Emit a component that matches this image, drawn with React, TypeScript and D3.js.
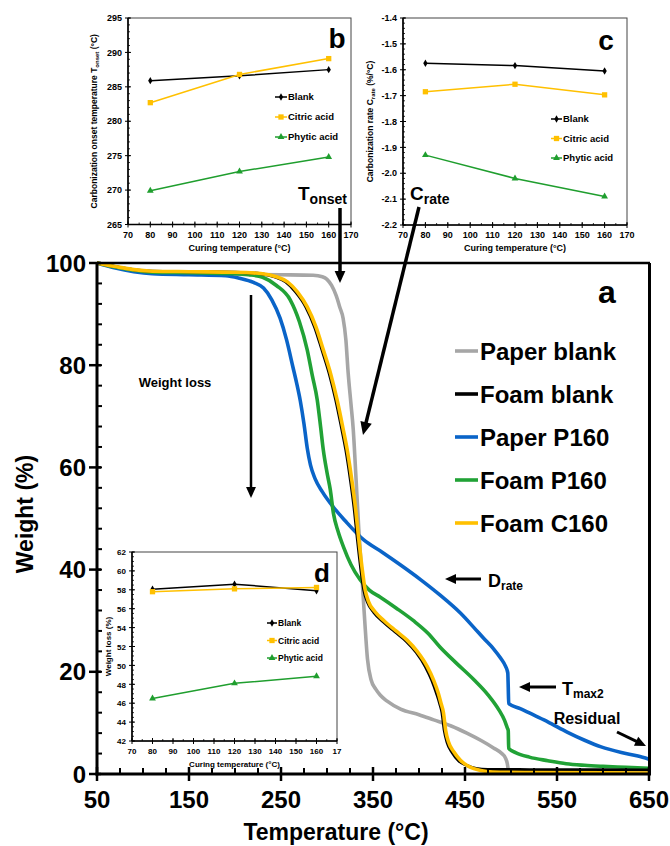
import React from 'react';
import * as d3 from 'd3';

const FONT = '"Liberation Sans", Arial, Helvetica, sans-serif';

// main TGA curves, [temperature (°C), weight (%)]
const paperBlank: [number, number][] = [
  [50, 100], [70, 99.2], [90, 98.5], [110, 98.1], [150, 97.9], [200, 97.8], [250, 97.7], [285, 97.6],
  [295, 97.3], [300, 96.8], [305, 95.6], [310, 93.6], [314, 91.3], [317.5, 89.2], [320.5, 85],
  [323, 78.5], [326, 72.5], [328.5, 67.5], [331.5, 58], [334.5, 48], [338, 38.5], [341, 30],
  [344, 22.5], [348, 18.4], [353, 16.6], [358, 15.4], [365, 14.3], [380, 12.7], [400, 11.6],
  [416, 10.6], [435, 9.4], [452, 8], [468, 6.5], [481, 5.1], [490, 4], [494, 3.1], [496, 2], [497, 0.8],
];
const foamBlank: [number, number][] = [
  [50, 100], [70, 99.3], [90, 98.7], [110, 98.4], [150, 98.3], [200, 98.2], [228, 97.9], [243, 97.3],
  [255, 96.3], [266, 94.3], [277, 91.4], [286.5, 87.5], [294.5, 83], [302.5, 78.3], [309.5, 73.2],
  [315.5, 68], [320.5, 63.4], [325.5, 57.5], [329.5, 52], [333, 46], [336.5, 40.5], [340, 36],
  [344, 33.6], [351, 31.6], [361, 29.8], [374, 27.8], [386, 26], [397, 23.8], [407, 21], [414, 18.3],
  [419, 15.8], [422.5, 13.8], [425, 12], [427.5, 8.5], [430.5, 6.2], [436, 4.2], [443, 2.6],
  [452, 1.7], [462, 1.1], [475, 0.9], [520, 0.85], [650, 0.8],
];
const paperP160: [number, number][] = [
  [50, 100], [70, 99], [90, 98.3], [110, 97.9], [150, 97.7], [190, 97.5], [205, 97], [220, 96.2],
  [231, 95.1], [240, 92.8], [249, 89.2], [256, 85], [263, 79.6], [267, 76.5], [271, 73], [275, 68.5],
  [278.5, 63.8], [282, 60.5], [287, 57.8], [295, 55.2], [307, 52.2], [320, 49.5], [340, 45.8],
  [360, 43.4], [380, 40.9], [402, 38], [423, 35], [445, 31.5], [460, 28.6], [470, 26.6], [481, 24.5],
  [489, 22.6], [494, 21.1], [496.5, 19.8], [497, 17], [497.5, 13.8], [510, 12.8], [525, 11.5],
  [540, 10.2], [561, 8.2], [580, 6.6], [598, 5.3], [620, 4.2], [638, 3.5], [650, 2.9],
];
const foamP160: [number, number][] = [
  [50, 100], [70, 99.2], [90, 98.6], [110, 98.2], [150, 98.1], [200, 97.9], [215, 97.7], [230, 97.2],
  [245, 95.6], [260, 92.8], [270, 88.5], [278.5, 83], [284, 78], [289.4, 73.2], [293, 68],
  [296, 63.4], [300, 59], [303.6, 55.6], [307, 51], [312, 47.5], [318, 44.4], [326, 41], [336, 38],
  [346, 36], [358, 34.6], [375, 32.5], [394, 30], [410, 27.5], [423, 24.8], [440, 21.8], [460, 18.4],
  [475, 15.5], [487, 12.5], [493, 10.5], [496, 9], [497, 8.5], [497.5, 5], [505, 4.2], [520, 3.3],
  [540, 2.6], [560, 2], [580, 1.7], [600, 1.5], [625, 1.3], [650, 1.1],
];
const foamC160: [number, number][] = [
  [50, 100], [70, 99.3], [90, 98.7], [110, 98.4], [150, 98.3], [200, 98.2], [230, 97.9], [245, 97.3],
  [257, 96.3], [268, 94.3], [278.5, 91.4], [288, 87.5], [296, 83], [304, 78.3], [311, 73.2],
  [317, 68], [322, 63.4], [327, 57.5], [331, 52], [334.5, 46], [338, 40.5], [341.5, 36], [345, 33.8],
  [352, 31.8], [362, 30], [375, 28], [387, 26.2], [398, 24], [409, 21], [416, 18.3], [421, 15.8],
  [424, 13.8], [426.6, 12], [429, 8.5], [432, 6.3], [438, 4.3], [445, 2.7], [455, 1.4], [467, 0.7],
  [480, 0.4], [520, 0.3], [650, 0.2],
];

const mainNames = ['Paper blank', 'Foam blank', 'Paper P160', 'Foam P160', 'Foam C160'];
const mainSeries = [paperBlank, foamBlank, paperP160, foamP160, foamC160];
const mainColors = ['#a6a6a6', '#000000', '#0a64c8', '#21a236', '#ffc000'];
const xTicks = [50, 150, 250, 350, 450, 550, 650];
const yTicks = [0, 20, 40, 60, 80, 100];

// inset data
const curingTemps = [80, 120, 160];
const curingTicks = [70, 80, 90, 100, 110, 120, 130, 140, 150, 160, 170];
const curingLabels = ['70', '80', '90', '100', '110', '120', '130', '140', '150', '160', '170'];
const curingLabelsD = ['70', '80', '90', '100', '110', '120', '130', '140', '150', '160', '17'];
const insetNames = ['Blank', 'Citric acid', 'Phytic acid'];
const insetColors = ['#000000', '#ffc000', '#1f9e2e'];

const tonsetBlank = [285.9, 286.6, 287.5];
const tonsetCitric = [282.7, 286.8, 289.1];
const tonsetPhytic = [269.9, 272.7, 274.8];

const crateBlank = [-1.575, -1.584, -1.605];
const crateCitric = [-1.685, -1.656, -1.697];
const cratePhytic = [-1.93, -2.02, -2.09];

const lossBlank = [58.05, 58.6, 57.9];
const lossCitric = [57.8, 58.1, 58.25];
const lossPhytic = [46.5, 48.1, 48.85];

const symbols = [d3.symbolDiamond, d3.symbolSquare, d3.symbolTriangle];
const symSizes = [16, 28, 20];

function Arrow({ x1, y1, x2, y2, w = 3, head = 12 }: any) {
  const dx = x2 - x1, dy = y2 - y1;
  const len = Math.hypot(dx, dy);
  const ux = dx / len, uy = dy / len;
  const bx = x2 - ux * head, by = y2 - uy * head;
  const hw = head * 0.45;
  const pts = `${x2},${y2} ${bx - uy * hw},${by + ux * hw} ${bx + uy * hw},${by - ux * hw}`;
  return (
    <g>
      <line x1={x1} y1={y1} x2={bx + ux * 1} y2={by + uy * 1} stroke="#000" strokeWidth={w} />
      <polygon points={pts} fill="#000" />
    </g>
  );
}

function Inset({ box, yDomain, yStep, yMinor, yFmt, xLabels, data, legend, letter, title, titleX, fs }: any) {
  const x = d3.scaleLinear().domain([70, 170]).range([box.x0, box.x1]);
  const y = d3.scaleLinear().domain(yDomain).range([box.y1, box.y0]);
  const yMaj = d3.range(yDomain[0], yDomain[1] + yStep / 2, yStep);
  const yMin = d3.range(yDomain[0], yDomain[1] + yMinor / 2, yMinor);
  const xMin = d3.range(70, 171, 5);
  const line = d3.line<number>().x((_, i) => x(curingTemps[i])).y(d => y(d));
  return (
    <g fontFamily={FONT} fontWeight="bold">
      <rect x={box.x0} y={box.y0} width={box.x1 - box.x0} height={box.y1 - box.y0} fill="#fff" stroke="#444" strokeWidth={1} />
      {yMin.map((v: number, i: number) => (
        <line key={'ym' + i} x1={box.x0} x2={box.x0 + 2} y1={y(v)} y2={y(v)} stroke="#000" strokeWidth={0.8} />
      ))}
      {yMaj.map((v: number, i: number) => (
        <g key={'yM' + i}>
          <line x1={box.x0 - 3} x2={box.x0 + 3} y1={y(v)} y2={y(v)} stroke="#000" strokeWidth={1} />
          <text x={box.x0 - 6} y={y(v) + 3.2} fontSize={fs} textAnchor="end">{yFmt(v)}</text>
        </g>
      ))}
      {xMin.map((v: number, i: number) => (
        <line key={'xm' + i} x1={x(v)} x2={x(v)} y1={box.y1} y2={box.y1 - 2} stroke="#000" strokeWidth={0.8} />
      ))}
      {curingTicks.map((v, i) => (
        <g key={'xM' + i}>
          <line x1={x(v)} x2={x(v)} y1={box.y1 - 3} y2={box.y1 + 3} stroke="#000" strokeWidth={1} />
          <text x={x(v)} y={box.y1 + 13} fontSize={fs} textAnchor="middle">{xLabels[i]}</text>
        </g>
      ))}
      <line x1={box.x0} x2={box.x0} y1={box.y0} y2={box.y1} stroke="#000" strokeWidth={1.6} />
      <line x1={box.x0} x2={box.x1} y1={box.y1} y2={box.y1} stroke="#000" strokeWidth={1.6} />
      <text x={(box.x0 + box.x1) / 2} y={box.y1 + 26} fontSize={fs} textAnchor="middle">Curing temperature (°C)</text>
      <g transform={`translate(${box.x0 - titleX},${(box.y0 + box.y1) / 2}) rotate(-90)`}>{title}</g>
      {data.map((vals: number[], k: number) => (
        <g key={'s' + k}>
          <path d={line(vals) || ''} fill="none" stroke={insetColors[k]} strokeWidth={1.5} />
          {vals.map((v, i) => (
            <path key={i} transform={`translate(${x(curingTemps[i])},${y(v)})`}
              d={d3.symbol(symbols[k], symSizes[k])() || ''} fill={insetColors[k]} />
          ))}
        </g>
      ))}
      {insetNames.map((n, k) => {
        const ly = legend.y + k * legend.dy;
        return (
          <g key={'l' + k}>
            <line x1={legend.x} x2={legend.x + legend.len} y1={ly} y2={ly} stroke={insetColors[k]} strokeWidth={1.5} />
            <path transform={`translate(${legend.x + legend.len / 2},${ly})`} d={d3.symbol(symbols[k], symSizes[k])() || ''} fill={insetColors[k]} />
            <text x={legend.x + legend.len + 1} y={ly + 3.3} fontSize={legend.fs}>{n}</text>
          </g>
        );
      })}
      <text x={letter.x} y={letter.y} fontSize={letter.fs} textAnchor="middle">{letter.t}</text>
    </g>
  );
}

export default function App() {
  const x = d3.scaleLinear().domain([50, 650]).range([97, 649]);
  const y = d3.scaleLinear().domain([0, 100]).range([774, 263]);
  const line = d3.line<[number, number]>().x(d => x(d[0])).y(d => y(d[1])).curve(d3.curveMonotoneX);
  const yMinor = d3.range(0, 101, 4);
  const xMinor = d3.range(50, 651, 25);
  const drawOrder = [0, 2, 3, 1, 4];

  return (
    <svg width={670} height={846} style={{ position: 'absolute', left: 0, top: 0, background: '#fff' }} fontFamily={FONT}>
      <rect width={670} height={846} fill="#fff" />
      {/* inset b */}
      <Inset box={{ x0: 128, x1: 351, y0: 18, y1: 224.5 }} yDomain={[265, 295]} yStep={5} yMinor={1}
        yFmt={(v: number) => String(v)} xLabels={curingLabels}
        data={[tonsetBlank, tonsetCitric, tonsetPhytic]} fs={9}
        legend={{ x: 275, y: 97, dy: 20, len: 12, fs: 9.5 }}
        letter={{ x: 337, y: 48, fs: 28, t: 'b' }} titleX={31}
        title={<text fontSize={8.5} textAnchor="middle">Carbonization onset temperature T<tspan fontSize={6} dy={2}>onset</tspan><tspan dy={-2}> (°C)</tspan></text>} />
      {/* inset c */}
      <Inset box={{ x0: 403, x1: 627, y0: 18, y1: 225 }} yDomain={[-2.2, -1.4]} yStep={0.1} yMinor={0.02}
        yFmt={(v: number) => v.toFixed(1)} xLabels={curingLabels}
        data={[crateBlank, crateCitric, cratePhytic]} fs={9}
        legend={{ x: 551, y: 119, dy: 19.5, len: 11, fs: 9.5 }}
        letter={{ x: 606, y: 50, fs: 28, t: 'c' }} titleX={30}
        title={<text fontSize={8.5} textAnchor="middle">Carbonization rate C<tspan fontSize={6} dy={2}>rate</tspan><tspan dy={-2}> (%/°C)</tspan></text>} />

      {/* main chart a */}
      <g>
        {drawOrder.map(i => (
          <path key={i} d={line(mainSeries[i]) || ''} fill="none" stroke={mainColors[i]}
            strokeWidth={i === 1 ? 3 : 3.6} strokeLinejoin="round" />
        ))}
        <line x1={97} x2={650} y1={263} y2={263} stroke="#000" strokeWidth={2.5} />
        <line x1={649.5} x2={649.5} y1={263} y2={775} stroke="#000" strokeWidth={3} />
        {yMinor.map(v => (
          <line key={'ym' + v} x1={97} x2={102} y1={y(v)} y2={y(v)} stroke="#000" strokeWidth={2} />
        ))}
        {yTicks.map(v => (
          <g key={'yt' + v}>
            <line x1={89} x2={101} y1={y(v)} y2={y(v)} stroke="#000" strokeWidth={2.5} />
            <text x={86} y={y(v) + 8.5} fontSize={24} fontWeight="bold" textAnchor="end">{v}</text>
          </g>
        ))}
        {xMinor.map(v => (
          <line key={'xm' + v} x1={x(v)} x2={x(v)} y1={774} y2={768} stroke="#000" strokeWidth={2} />
        ))}
        {xTicks.map(v => (
          <g key={'xt' + v}>
            <line x1={x(v)} x2={x(v)} y1={767} y2={781} stroke="#000" strokeWidth={2.5} />
            <text x={x(v)} y={808} fontSize={24} fontWeight="bold" textAnchor="middle">{v}</text>
          </g>
        ))}
        <line x1={97} x2={97} y1={262} y2={775.5} stroke="#000" strokeWidth={3} />
        <line x1={95.5} x2={651} y1={774} y2={774} stroke="#000" strokeWidth={3} />
        <text x={336} y={840} fontSize={23} fontWeight="bold" textAnchor="middle">Temperature (°C)</text>
        <text transform="translate(33,514) rotate(-90)" fontSize={23} fontWeight="bold" textAnchor="middle">Weight (%)</text>
        <text x={607} y={303} fontSize={32} fontWeight="bold" textAnchor="middle">a</text>

        {mainNames.map((n, i) => {
          const ly = 351 + i * 43;
          return (
            <g key={'lg' + i}>
              <line x1={455} x2={478} y1={ly} y2={ly} stroke={mainColors[i]} strokeWidth={3.6} />
              <text x={480} y={ly + 8.5} fontSize={24} fontWeight="bold">{n}</text>
            </g>
          );
        })}

        {/* annotations */}
        <text x={175} y={387} fontSize={13} fontWeight="bold" textAnchor="middle">Weight loss</text>
        <Arrow x1={251} y1={295} x2={251} y2={498} w={2.5} head={11} />
        <Arrow x1={340} y1={208} x2={340} y2={283} w={3.5} head={12} />
        <text x={298} y={200} fontSize={19} fontWeight="bold">T<tspan fontSize={14} dy={4}>onset</tspan></text>
        <Arrow x1={419} y1={207} x2={363} y2={435} w={3.5} head={13} />
        <text x={410} y={200} fontSize={19} fontWeight="bold">C<tspan fontSize={14} dy={4}>rate</tspan></text>
        <Arrow x1={481} y1={579} x2={445} y2={579} w={3} head={11} />
        <text x={488} y={587} fontSize={18} fontWeight="bold">D<tspan fontSize={12} dy={3}>rate</tspan></text>
        <Arrow x1={556} y1={687} x2={519} y2={687} w={3} head={11} />
        <text x={562} y={695} fontSize={18} fontWeight="bold">T<tspan fontSize={12} dy={3}>max2</tspan></text>
        <text x={587} y={724} fontSize={16} fontWeight="bold" textAnchor="middle">Residual</text>
        <Arrow x1={617} y1={732} x2={646} y2={746} w={3} head={11} />
      </g>

      {/* inset d */}
      <Inset box={{ x0: 132, x1: 337, y0: 552, y1: 741 }} yDomain={[42, 62]} yStep={2} yMinor={0.5}
        yFmt={(v: number) => String(v)} xLabels={curingLabelsD}
        data={[lossBlank, lossCitric, lossPhytic]} fs={8}
        legend={{ x: 267, y: 623, dy: 17.5, len: 10, fs: 8.5 }}
        letter={{ x: 322, y: 582, fs: 26, t: 'd' }} titleX={21}
        title={<text fontSize={8} textAnchor="middle">Weight loss (%)</text>} />
    </svg>
  );
}
